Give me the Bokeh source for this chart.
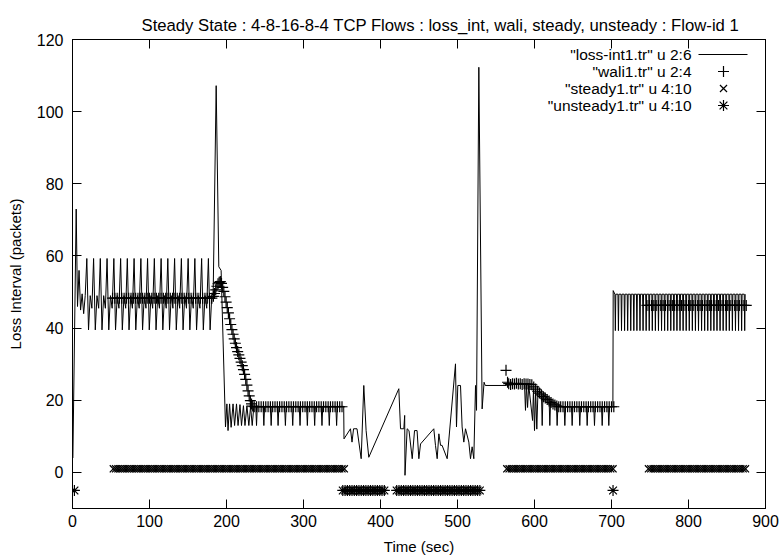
from bokeh.plotting import figure
from bokeh.models import Range1d, FixedTicker, LinearAxis, Label
from bokeh.embed import file_html
from bokeh.resources import INLINE

FONT = "Liberation Sans"

# ---------------- data ----------------
x_ticks = [0, 100, 200, 300, 400, 500, 600, 700, 800, 900]
y_ticks = [0, 20, 40, 60, 80, 100, 120]

# "loss-int1.tr" u 2:6  -- section A (start, 48-level oscillation, spike at ~187)
loss_a_t = [0.5, 4.8, 6.5, 8.5, 10.5, 12.5, 14.5, 16.5,
            18.6, 20.8, 23.0, 25.2, 27.4, 29.6, 31.8, 34.0,
            36.1, 38.3, 40.5, 42.7, 44.9, 47.1, 49.3, 51.5,
            53.7, 55.9, 58.1, 60.3, 62.5, 64.7, 66.9, 69.1,
            71.2, 73.4, 75.6, 77.8, 80.0, 82.2, 84.4, 86.6,
            88.8, 91.0, 93.2, 95.4, 97.5, 99.7, 101.9, 104.1,
            106.3, 108.5, 110.7, 112.9, 115.1, 117.3, 119.5, 121.7,
            123.8, 126.0, 128.2, 130.4, 132.6, 134.8, 137.0, 139.2,
            141.4, 143.6, 145.8, 148.0, 150.2, 152.4, 154.6, 156.8,
            158.9, 161.1, 163.3, 165.5, 167.7, 169.9, 172.1, 174.3,
            176.5, 178.7, 180.9, 182.7, 186.6, 190.0, 193.0]
loss_a_v = [4, 73, 46, 56, 45, 49.5, 44, 49,
            59.3, 39.5, 49, 45.5, 59.3, 39.5, 49, 45.5,
            59.3, 39.5, 49, 45.5, 59.3, 39.5, 49, 45.5,
            59.3, 39.5, 49, 45.5, 59.3, 39.5, 49, 45.5,
            59.3, 39.5, 49, 45.5, 59.3, 39.5, 49, 45.5,
            59.3, 39.5, 49, 45.5, 59.3, 39.5, 49, 45.5,
            59.3, 39.5, 49, 45.5, 59.3, 39.5, 49, 45.5,
            59.3, 39.5, 49, 45.5, 59.3, 39.5, 49, 45.5,
            59.3, 39.5, 49, 45.5, 59.3, 39.5, 49, 45.5,
            59.3, 39.5, 49, 45.5, 59.3, 39.5, 49, 45.5,
            59.3, 39.5, 49, 49.6, 107.2, 57, 56]

# section B (18-level with dips)
loss_b_t = [198.7, 200.5, 202, 204, 206, 208.5, 210.5, 213, 215, 217.5,
            219.5, 222, 224, 226.5, 229, 231.3, 233.4, 235.5]
loss_b_v = [12.6, 19, 11.6, 19, 12.5, 19, 13, 19, 13, 18.8,
            13, 18.5, 13, 18.5, 13, 18.3, 13, 18.3]
loss_b_dip_t = [239, 248.5, 258, 267, 276.5, 286, 295.5, 305, 314.5, 324, 333.5, 343]
loss_b_top, loss_b_bottom = 18.3, 13
loss_b_end_t = [352.2, 352.6]
loss_b_end_v = [18.3, 9.3]

# middle, irregular section (350-563)
loss_m_t = [361, 363, 365, 369.5, 374.9, 378.3, 381.3, 384.8, 423.8, 426,
            430.3, 431.4, 431.8, 434.6, 437, 441.2, 444.2, 447.5, 449.8, 452,
            469.2, 471.4, 473.6, 475.8, 478, 480, 486.6, 497.4, 498.7, 500.4,
            503.9, 506, 508.2, 510.4, 514.7, 516.9, 519, 521.2, 523.4, 524.7,
            527.7, 532, 534.5, 536]
loss_m_v = [12.1, 8.4, 12.1, 12.1, 3.8, 24.1, 11.6, 4.2, 23.2, 12.1,
            12.1, 15.8, -0.8, 12.1, 11.6, 3.8, 11.6, 11.6, 3.8, 7.9,
            12.1, 7.5, 3.8, 10.7, 7.5, 7.5, 3.8, 30.1, 12.6, 24.1,
            24.1, 12.6, 8.4, 12.1, 8.4, 3.8, 7.1, 3.8, 24.1, 17.2,
            112.3, 17.6, 25, 24.1]

# section C (563-702)
loss_c_t = [563.5, 575, 587, 588.3, 589.5, 591, 592.5, 597.5, 598.7, 600,
            601.5, 603, 604.5, 609, 610, 611, 619, 619.9, 620.9, 628.5,
            629.4, 630.4, 638.5, 639.4, 640.4, 648, 648.9, 649.9, 657.9, 658.8,
            659.8, 667.5, 668.4, 669.4, 677, 677.9, 678.9, 687, 687.9, 688.9,
            695.6, 696.5, 697.5, 701.8, 702.2]
loss_c_v = [24.1, 24.4, 24.5, 17.2, 24.4, 18, 24.2, 14.4, 23, 11.6,
            22.8, 12, 22.5, 22, 13, 21.7, 20, 13, 19.8, 18.7,
            13, 18.5, 18.2, 13, 18.2, 18.2, 13, 18.2, 18.2, 13,
            18.2, 18.2, 13, 18.2, 18.2, 13, 18.2, 18.2, 13, 18.2,
            18.2, 13, 18.2, 18.2, 50.4]

# section D (702-874) : dips from ~49.4 down to ~39.3
loss_d_dip_t = [705, 709, 713, 717, 721, 725, 729, 733, 737, 741, 745, 749, 753, 757,
                761, 765, 769, 773, 777, 781, 785, 789, 793, 797, 801, 805, 809, 813,
                817, 821, 825, 829, 833, 837, 841, 845, 849, 853, 857, 861, 865, 869, 873]
loss_d_top, loss_d_bottom = 49.4, 39.3

# "wali1.tr" u 2:4
wali_1_t = [52, 55, 58, 61, 64, 67, 70, 73, 76, 79, 82, 85, 88, 91, 94, 97, 100,
            103, 106, 109, 112, 115, 118, 121, 124, 127, 130, 133, 136, 139, 142,
            145, 148, 151, 154, 157, 160, 163, 166, 169, 172, 175, 178, 181]
wali_1_level = 48.3
wali_2_t = [183, 184.5, 186, 187.5, 189, 190.5, 192, 193.5, 195, 196.5, 198, 199.5,
            201, 202.5, 204, 205.5, 207, 208.5, 210, 211.5, 213, 214.5, 216, 217.5,
            219, 220.5, 222, 223.5, 225, 226.5, 228, 229.5, 231, 232.5, 234]
wali_2_v = [48.8, 49.6, 50.6, 51.6, 52.3, 52.7, 52.9, 52.4, 51.3, 50.2, 48.7, 47.2,
            45.7, 44.2, 42.6, 41.0, 39.6, 38.3, 37.0, 35.8, 34.6, 33.5, 32.6, 31.6,
            30.6, 29.6, 28.5, 27.2, 25.8, 24.2, 22.6, 21.2, 19.9, 19.0, 18.4]
wali_3_t = [236, 239, 242, 245, 248, 251, 254, 257, 260, 263, 266, 269, 272, 275,
            278, 281, 284, 287, 290, 293, 296, 299, 302, 305, 308, 311, 314, 317,
            320, 323, 326, 329, 332, 335, 338, 341, 344, 347, 350]
wali_3_level = 18.2
wali_4_t = [563, 565, 566.5, 569, 571.5, 574, 576.5, 579, 581.5, 584, 586.5, 589,
            591.5, 594, 596.5, 599, 601.5, 604, 606.5, 609, 611.5, 614, 616.5, 619,
            621.5, 624, 626.5, 629, 631.5]
wali_4_v = [28.3, 25.0, 24.6, 24.4, 24.6, 24.5, 24.7, 24.5, 24.6, 24.4, 24.6, 24.5,
            24.5, 24.4, 24.3, 23.7, 23.1, 22.5, 22.0, 21.5, 21.0, 20.6, 20.2, 19.8,
            19.4, 19.0, 18.7, 18.4, 18.2]
wali_5_t = [634, 637, 640, 643, 646, 649, 652, 655, 658, 661, 664, 667, 670, 673,
            676, 679, 682, 685, 688, 691, 694, 697, 700, 703]
wali_5_level = 18.2
wali_6_t = [746, 749, 752, 755, 758, 761, 764, 767, 770, 773, 776, 779, 782, 785,
            788, 791, 794, 797, 800, 803, 806, 809, 812, 815, 818, 821, 824, 827,
            830, 833, 836, 839, 842, 845, 848, 851, 854, 857, 860, 863, 866, 869,
            872, 875]
wali_6_level = 46.3

# "steady1.tr" u 4:10
steady_t = [53, 56, 59, 62, 65, 68, 71, 74, 77, 80, 83, 86, 89, 92, 95, 98, 101,
            104, 107, 110, 113, 116, 119, 122, 125, 128, 131, 134, 137, 140, 143,
            146, 149, 152, 155, 158, 161, 164, 167, 170, 173, 176, 179, 182, 185,
            188, 191, 194, 197, 200, 203, 206, 209, 212, 215, 218, 221, 224, 227,
            230, 233, 236, 239, 242, 245, 248, 251, 254, 257, 260, 263, 266, 269,
            272, 275, 278, 281, 284, 287, 290, 293, 296, 299, 302, 305, 308, 311,
            314, 317, 320, 323, 326, 329, 332, 335, 338, 341, 344, 347, 350, 353,
            564, 567, 570, 573, 576, 579, 582, 585, 588, 591, 594, 597, 600, 603,
            606, 609, 612, 615, 618, 621, 624, 627, 630, 633, 636, 639, 642, 645,
            648, 651, 654, 657, 660, 663, 666, 669, 672, 675, 678, 681, 684, 687,
            690, 693, 696, 699, 702,
            748, 751, 754, 757, 760, 763, 766, 769, 772, 775, 778, 781, 784, 787,
            790, 793, 796, 799, 802, 805, 808, 811, 814, 817, 820, 823, 826, 829,
            832, 835, 838, 841, 844, 847, 850, 853, 856, 859, 862, 865, 868, 871, 874]
steady_level = 1

# "unsteady1.tr" u 4:10
unsteady_t = [2.5,
              351, 354, 357, 360, 363, 366, 369, 372, 375, 378, 381, 384, 387, 390,
              393, 396, 399, 402, 405,
              421, 424, 427, 430, 433, 436, 439, 442, 445, 448, 451, 454, 457, 460,
              463, 466, 469, 472, 475, 478, 481, 484, 487, 490, 493, 496, 499, 502,
              505, 508, 511, 514, 517, 520, 523, 526, 529,
              702]
unsteady_level = -5

title_text = "Steady State : 4-8-16-8-4 TCP Flows : loss_int, wali, steady, unsteady : Flow-id 1"
legend_labels = ['"loss-int1.tr" u 2:6', '"wali1.tr" u 2:4',
                 '"steady1.tr" u 4:10', '"unsteady1.tr" u 4:10']

# ---------------- assemble ----------------
def v_dips(times, top, bottom, half):
    ts, vs = [], []
    for t in times:
        ts += [t - half, t, t + half]
        vs += [top, bottom, top]
    return ts, vs

bt, bv = v_dips(loss_b_dip_t, loss_b_top, loss_b_bottom, 1.0)
dt, dv = v_dips(loss_d_dip_t, loss_d_top, loss_d_bottom, 0.6)

for a, b in [(loss_a_t, loss_a_v), (loss_b_t, loss_b_v), (loss_m_t, loss_m_v),
             (loss_c_t, loss_c_v), (wali_2_t, wali_2_v), (wali_4_t, wali_4_v)]:
    assert len(a) == len(b), (len(a), len(b))

loss_t = loss_a_t + loss_b_t + bt + loss_b_end_t + loss_m_t + loss_c_t + dt
loss_v = loss_a_v + loss_b_v + bv + loss_b_end_v + loss_m_v + loss_c_v + dv

wali_t = wali_1_t + wali_2_t + wali_3_t + wali_4_t + wali_5_t + wali_6_t
wali_v = ([wali_1_level] * len(wali_1_t) + wali_2_v + [wali_3_level] * len(wali_3_t)
          + wali_4_v + [wali_5_level] * len(wali_5_t) + [wali_6_level] * len(wali_6_t))

# ---------------- figure ----------------
X0, X1, Y0, Y1 = 0, 900, -10, 120
p = figure(width=780, height=558, output_backend="svg", toolbar_location=None,
           x_range=Range1d(X0, X1), y_range=Range1d(Y0, Y1),
           min_border_left=72, min_border_right=15, min_border_top=39,
           min_border_bottom=50)
p.background_fill_color = "white"
p.border_fill_color = "white"
p.outline_line_color = "black"
p.outline_line_width = 1
p.xgrid.visible = False
p.ygrid.visible = False

p.title.text = title_text
p.title.text_font = FONT
p.title.text_font_size = "16.7px"
p.title.text_font_style = "normal"
p.title.text_color = "black"
p.title.align = "left"
p.title.offset = 69
p.title.standoff = 10

# frame in pixels: x 72..765, y 39..508  -> helpers for placing the key
FX0, FX1, FY0, FY1 = 72, 765, 39, 508
def px_x(px):
    return X0 + (px - FX0) * (X1 - X0) / (FX1 - FX0)
def px_y(py):
    return Y1 - (py - FY0) * (Y1 - Y0) / (FY1 - FY0)

def style_axis(ax, ticks, show_labels):
    ax.ticker = FixedTicker(ticks=ticks)
    ax.major_tick_in = 9
    ax.major_tick_out = 0
    ax.minor_tick_line_color = None
    ax.axis_line_color = "black"
    ax.major_tick_line_color = "black"
    ax.major_label_text_font = FONT
    ax.axis_label_text_font = FONT
    ax.axis_label_text_font_style = "normal"
    ax.axis_label_text_font_size = "15px"
    ax.axis_label_text_color = "black"
    if show_labels:
        ax.major_label_text_font_size = "16px"
        ax.major_label_text_color = "black"
    else:
        ax.major_label_text_font_size = "1px"
        ax.major_label_text_color = None
        ax.major_label_standoff = 0

style_axis(p.xaxis[0], x_ticks, True)
style_axis(p.yaxis[0], y_ticks, True)
p.xaxis[0].axis_label = "Time (sec)"
p.yaxis[0].axis_label = "Loss Interval (packets)"
p.xaxis[0].major_label_standoff = 6
p.xaxis[0].axis_label_standoff = 8
p.yaxis[0].major_label_standoff = 9
p.yaxis[0].axis_label_standoff = 10

top_ax = LinearAxis()
style_axis(top_ax, x_ticks, False)
p.add_layout(top_ax, "above")
right_ax = LinearAxis()
style_axis(right_ax, y_ticks, False)
p.add_layout(right_ax, "right")

# series
p.line(loss_t, loss_v, line_color="black", line_width=1)
p.scatter(wali_t, wali_v, marker="cross", size=11, line_color="black", line_width=1.2)
p.scatter(steady_t, [steady_level] * len(steady_t), marker="x", size=10,
          line_color="black", line_width=1.3)
p.scatter(unsteady_t, [unsteady_level] * len(unsteady_t), marker="asterisk", size=11,
          line_color="black", line_width=1.2)

# legend (gnuplot style: label right-aligned, sample on the right)
leg_rows_px = [54, 71, 88, 105]
leg_y = [px_y(v) for v in leg_rows_px]
for lab, yy in zip(legend_labels, leg_y):
    p.add_layout(Label(x=px_x(691), y=yy, text=lab, text_align="right",
                       text_baseline="middle", text_font=FONT,
                       text_font_size="15.5px", text_color="black"))
p.line([px_x(698), px_x(747)], [leg_y[0], leg_y[0]], line_color="black", line_width=1)
p.scatter([px_x(723)], [leg_y[1]], marker="cross", size=11, line_color="black", line_width=1.2)
p.scatter([px_x(723)], [leg_y[2]], marker="x", size=10, line_color="black", line_width=1.2)
p.scatter([px_x(723)], [leg_y[3]], marker="asterisk", size=11, line_color="black", line_width=1.2)

open("out.html", "w").write(file_html(p, INLINE))
